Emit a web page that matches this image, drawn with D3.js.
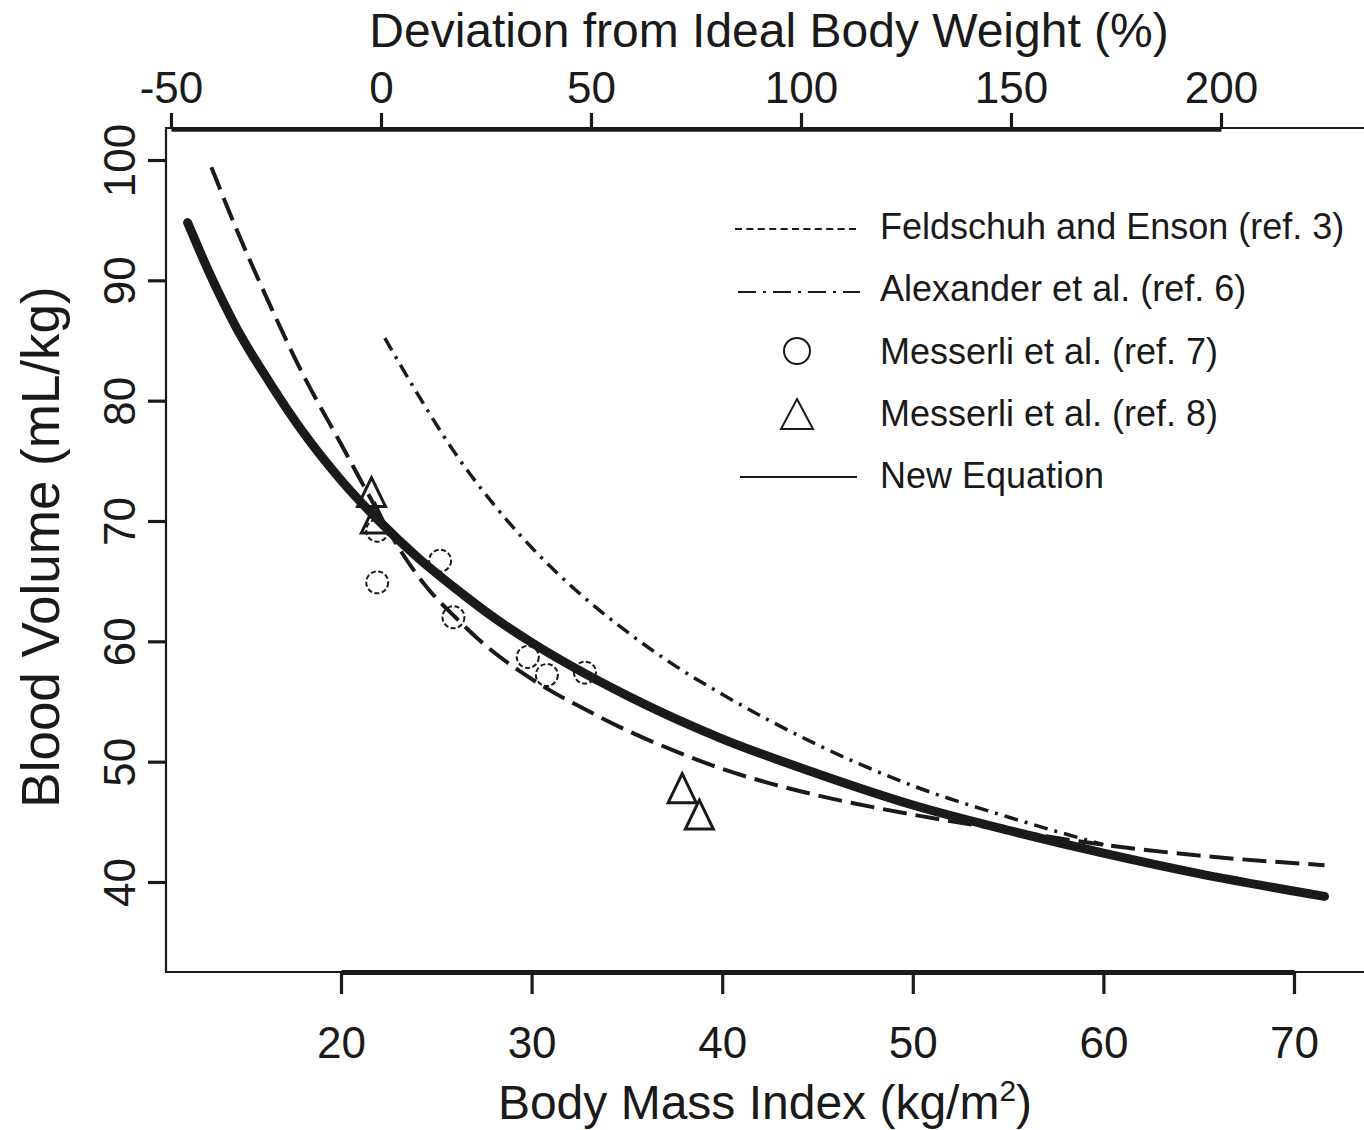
<!DOCTYPE html>
<html>
<head>
<meta charset="utf-8">
<script src="https://cdn.jsdelivr.net/npm/d3@7"></script>
<style>
  html, body { margin: 0; padding: 0; background: #fff; }
  svg { display: block; }
  text { font-family: "Liberation Sans", Arial, Helvetica, sans-serif; fill: #1a1a1a; }
</style>
</head>
<body>
<svg id="chart" width="1364" height="1130"></svg>
<script>
// ---------- data ----------
const bmiTicks = [20, 30, 40, 50, 60, 70];
const devTicks = [-50, 0, 50, 100, 150, 200];
const bvTicks = [40, 50, 60, 70, 80, 90, 100];

// New Equation (thick solid)
const newEqBMI = [11.95, 13.1, 14.5, 16.3, 18, 20, 22, 24, 26, 28, 30, 35, 40, 45, 50, 55, 60, 65, 71.6];
const newEqBV  = [94.8, 90.6, 86.1, 81.4, 77.4, 73.4, 70.0, 67.0, 64.4, 62.0, 59.9, 55.5, 51.9, 49.0, 46.4, 44.3, 42.4, 40.7, 38.8];

// Feldschuh and Enson (ref. 3) (long dash)
const feldBMI = [13.2, 14.5, 16, 18, 20, 22, 23.1, 24.5, 26, 27.7, 29.4, 31.1, 32.5, 35, 37.5, 40, 42.5, 45, 50, 55, 60, 65, 71.6];
const feldBV  = [99.4, 94.3, 88.9, 82.2, 76.4, 70.6, 67.6, 64.5, 62.0, 59.5, 57.5, 55.8, 54.6, 52.6, 50.9, 49.4, 48.2, 47.2, 45.6, 44.3, 43.1, 42.2, 41.4];

// Alexander et al. (ref. 6) (dash-dot)
const alexBMI = [22.3, 24, 26, 28, 30, 32.5, 35, 37.5, 40, 42.5, 45, 50, 55, 60];
const alexBV  = [85.2, 80.6, 75.6, 71.4, 67.8, 64.0, 60.8, 58.0, 55.6, 53.4, 51.4, 48.0, 45.4, 43.1];

// Messerli et al. (ref. 7) circles
const m7BMI = [21.9, 21.9, 25.2, 25.9, 29.8, 30.8, 32.8];
const m7BV  = [69.2, 64.9, 66.7, 62.0, 58.7, 57.2, 57.4];

// Messerli et al. (ref. 8) triangles
const m8BMI = [21.6, 21.8, 37.9, 38.8];
const m8BV  = [72.4, 70.2, 47.8, 45.6];

const legendLabels = ["Feldschuh and Enson (ref. 3)", "Alexander et al. (ref. 6)", "Messerli et al. (ref. 7)", "Messerli et al. (ref. 8)", "New Equation"];

// ---------- chart ----------
const svg = d3.select("#chart");
svg.append("rect").attr("width", 1364).attr("height", 1130).attr("fill", "#fff");

const x = d3.scaleLinear().domain([20, 70]).range([341, 1294]);
const xTop = d3.scaleLinear().domain([-50, 200]).range([171, 1221]);
const y = d3.scaleLinear().domain([40, 100]).range([882, 160]);

const frameL = 166, frameT = 128, frameB = 972;
const ink = "#1a1a1a";
const plain = d => String(d).replace("\u2212", "-");

// frame (right side lies beyond the picture)
svg.append("path")
  .attr("d", `M1380,${frameT}H${frameL}V${frameB}H1380`)
  .attr("fill", "none").attr("stroke", ink).attr("stroke-width", 2.2);

// bottom axis
const gB = svg.append("g").attr("transform", `translate(0,${frameB})`)
  .call(d3.axisBottom(x).tickValues(bmiTicks).tickFormat(plain).tickSize(22).tickSizeOuter(0).tickPadding(33));
gB.select(".domain").attr("stroke", ink).attr("stroke-width", 5);
gB.selectAll(".tick line").attr("stroke", ink).attr("stroke-width", 3.2);
gB.selectAll(".tick text").attr("font-size", 44).style("font-family", "Liberation Sans, Arial, sans-serif").attr("fill", ink);

// top axis
const gT = svg.append("g").attr("transform", `translate(0,${frameT + 1})`)
  .call(d3.axisTop(xTop).tickValues(devTicks).tickFormat(plain).tickSize(16).tickSizeOuter(0).tickPadding(10));
gT.select(".domain").attr("stroke", ink).attr("stroke-width", 4.5);
gT.selectAll(".tick line").attr("stroke", ink).attr("stroke-width", 3.2);
gT.selectAll(".tick text").attr("font-size", 44).style("font-family", "Liberation Sans, Arial, sans-serif").attr("fill", ink);

// left axis
const gL = svg.append("g").attr("transform", `translate(${frameL},0)`)
  .call(d3.axisLeft(y).tickValues(bvTicks).tickFormat(plain).tickSize(18).tickSizeOuter(0));
gL.select(".domain").remove();
gL.selectAll(".tick line").attr("stroke", ink).attr("stroke-width", 3.2);
gL.selectAll(".tick text")
  .attr("x", null).attr("dy", null)
  .attr("transform", "translate(-31,0) rotate(-90)")
  .attr("text-anchor", "middle")
  .attr("font-size", 44).style("font-family", "Liberation Sans, Arial, sans-serif").attr("fill", ink);

// axis titles
svg.append("text").attr("x", 769).attr("y", 47).attr("text-anchor", "middle")
  .attr("font-size", 48).text("Deviation from Ideal Body Weight (%)");
const bt = svg.append("text").attr("x", 765).attr("y", 1119).attr("text-anchor", "middle").attr("font-size", 48);
bt.append("tspan").text("Body Mass Index (kg/m");
bt.append("tspan").attr("font-size", 30).attr("dy", -18).text("2");
bt.append("tspan").attr("dy", 18).text(")");
svg.append("text").attr("transform", "translate(59,547) rotate(-90)").attr("text-anchor", "middle")
  .attr("font-size", 53).text("Blood Volume (mL/kg)");

// lines
const line = d3.line().x(d => x(d[0])).y(d => y(d[1])).curve(d3.curveMonotoneX);
const pts = (a, b) => a.map((v, i) => [v, b[i]]);

// circles
svg.append("g").selectAll("circle").data(pts(m7BMI, m7BV)).join("circle")
  .attr("cx", d => x(d[0])).attr("cy", d => y(d[1])).attr("r", 11)
  .attr("fill", "none").attr("stroke", ink).attr("stroke-width", 2).attr("stroke-dasharray", "5,2.5");

// triangles
const tri = (cx, cy, w, h) => `M${cx},${cy - h / 2}L${cx + w / 2},${cy + h / 2}L${cx - w / 2},${cy + h / 2}Z`;
svg.append("g").selectAll("path").data(pts(m8BMI, m8BV)).join("path")
  .attr("d", d => tri(x(d[0]), y(d[1]), 28, 29))
  .attr("fill", "none").attr("stroke", ink).attr("stroke-width", 3).attr("stroke-linejoin", "miter");

svg.append("path").attr("d", line(pts(alexBMI, alexBV)))
  .attr("fill", "none").attr("stroke", ink).attr("stroke-width", 3.5).attr("stroke-dasharray", "14,7,3,7");

svg.append("path").attr("d", line(pts(feldBMI, feldBV)))
  .attr("fill", "none").attr("stroke", ink).attr("stroke-width", 4).attr("stroke-dasharray", "24,9");

svg.append("path").attr("d", line(pts(newEqBMI, newEqBV)))
  .attr("fill", "none").attr("stroke", ink).attr("stroke-width", 9).attr("stroke-linecap", "round");

// legend
const lg = svg.append("g");
const rowY = [226, 288, 351, 413, 475];
lg.selectAll("text").data(legendLabels).join("text")
  .attr("x", 880).attr("y", (d, i) => rowY[i]).attr("dy", "0.36em")
  .attr("font-size", 36).text(d => d);
lg.append("line").attr("x1", 735).attr("x2", 860).attr("y1", rowY[0] + 3).attr("y2", rowY[0] + 3)
  .attr("stroke", ink).attr("stroke-width", 2).attr("stroke-dasharray", "7,4.4");
lg.append("line").attr("x1", 738).attr("x2", 860).attr("y1", rowY[1] + 4).attr("y2", rowY[1] + 4)
  .attr("stroke", ink).attr("stroke-width", 2).attr("stroke-dasharray", "18,7,3,7");
lg.append("circle").attr("cx", 797).attr("cy", rowY[2]).attr("r", 13)
  .attr("fill", "none").attr("stroke", ink).attr("stroke-width", 2);
lg.append("path").attr("d", tri(797, rowY[3] + 1, 32, 30))
  .attr("fill", "none").attr("stroke", ink).attr("stroke-width", 2);
lg.append("line").attr("x1", 740).attr("x2", 857).attr("y1", rowY[4] + 2).attr("y2", rowY[4] + 2)
  .attr("stroke", ink).attr("stroke-width", 2);
</script>
</body>
</html>
